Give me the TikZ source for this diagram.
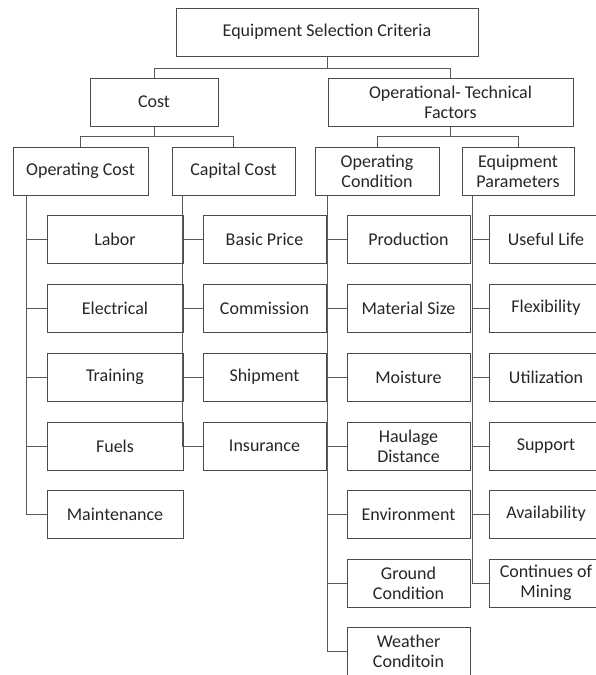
\documentclass[tikz,border=0pt]{standalone}
\usepackage{fontspec}
\setmainfont{Carlito}
\usetikzlibrary{calc}
\begin{document}
\begin{tikzpicture}[x=1pt,y=-1pt,
  box/.style={draw=black!70, line width=0.9pt, rectangle, minimum height=48pt, inner sep=0pt, align=center, font=\fontsize{18}{20}\selectfont, text=black!85},
  link/.style={draw=black!65, line width=0.9pt}]
\useasboundingbox (0,0) rectangle (595,675);
% top levels
\node[box, minimum width=302pt] (esc) at (327,32) {Equipment Selection Criteria};
\node[box, minimum width=128pt] (cost) at (154,102) {Cost};
\node[box, minimum width=245pt] (otf) at (450.5,102) {Operational- Technical\\Factors};
\node[box, minimum width=135pt] (opc) at (80.5,171) {Operating Cost};
\node[box, minimum width=123pt] (capc) at (233.5,171) {Capital Cost};
\node[box, minimum width=124pt] (ocond) at (377,171) {Operating\\Condition};
\node[box, minimum width=112pt] (eqp) at (518,171) {Equipment\\Parameters};
% operating cost column
\node[box, minimum width=136pt] (labor) at (115,239) {Labor};
\node[box, minimum width=136pt] (elec) at (115,308) {Electrical};
\node[box, minimum width=136pt] (train) at (115,377) {Training};
\node[box, minimum width=136pt] (fuel) at (115,446) {Fuels};
\node[box, minimum width=136pt] (maint) at (115,514) {Maintenance};
% capital cost column
\node[box, minimum width=123pt] (basic) at (264.5,239) {Basic Price};
\node[box, minimum width=123pt] (comm) at (264.5,308) {Commission};
\node[box, minimum width=123pt] (ship) at (264.5,377) {Shipment};
\node[box, minimum width=123pt] (insur) at (264.5,446) {Insurance};
% operating condition column
\node[box, minimum width=123pt] (prod) at (408.5,239) {Production};
\node[box, minimum width=123pt] (msize) at (408.5,308) {Material Size};
\node[box, minimum width=123pt] (moist) at (408.5,377) {Moisture};
\node[box, minimum width=123pt] (haul) at (408.5,446) {Haulage\\Distance};
\node[box, minimum width=123pt] (env) at (408.5,514) {Environment};
\node[box, minimum width=123pt] (ground) at (408.5,583) {Ground\\Condition};
\node[box, minimum width=123pt] (weather) at (408.5,651) {Weather\\Conditoin};
% equipment parameters column
\node[box, minimum width=114pt] (life) at (546,239) {Useful Life};
\node[box, minimum width=114pt] (flex) at (546,308) {Flexibility};
\node[box, minimum width=114pt] (util) at (546,377) {Utilization};
\node[box, minimum width=114pt] (supp) at (546,446) {Support};
\node[box, minimum width=114pt] (avail) at (546,514) {Availability};
\node[box, minimum width=114pt] (cont) at (546,583) {Continues of\\Mining};
% tree connectors
\draw[link] (esc.south) -- ++(0,12) -| (cost.north);
\draw[link] (esc.south) -- ++(0,12) -| (otf.north);
\draw[link] (cost.south) -- ++(0,10) -| (opc.north);
\draw[link] (cost.south) -- ++(0,10) -| (capc.north);
\draw[link] (otf.south) -- ++(0,10) -| (ocond.north);
\draw[link] (otf.south) -- ++(0,10) -| (eqp.north);
% spines
\coordinate (s1) at ($(opc.south west)+(14,0)$);
\coordinate (s2) at ($(capc.south west)+(11,0)$);
\coordinate (s3) at ($(ocond.south west)+(13,0)$);
\coordinate (s4) at ($(eqp.south west)+(11,0)$);
\foreach \c in {labor,elec,train,fuel,maint} \draw[link] (s1) |- (\c.west);
\foreach \c in {basic,comm,ship,insur} \draw[link] (s2) |- (\c.west);
\foreach \c in {prod,msize,moist,haul,env,ground,weather} \draw[link] (s3) |- (\c.west);
\foreach \c in {life,flex,util,supp,avail,cont} \draw[link] (s4) |- (\c.west);
\end{tikzpicture}
\end{document}
